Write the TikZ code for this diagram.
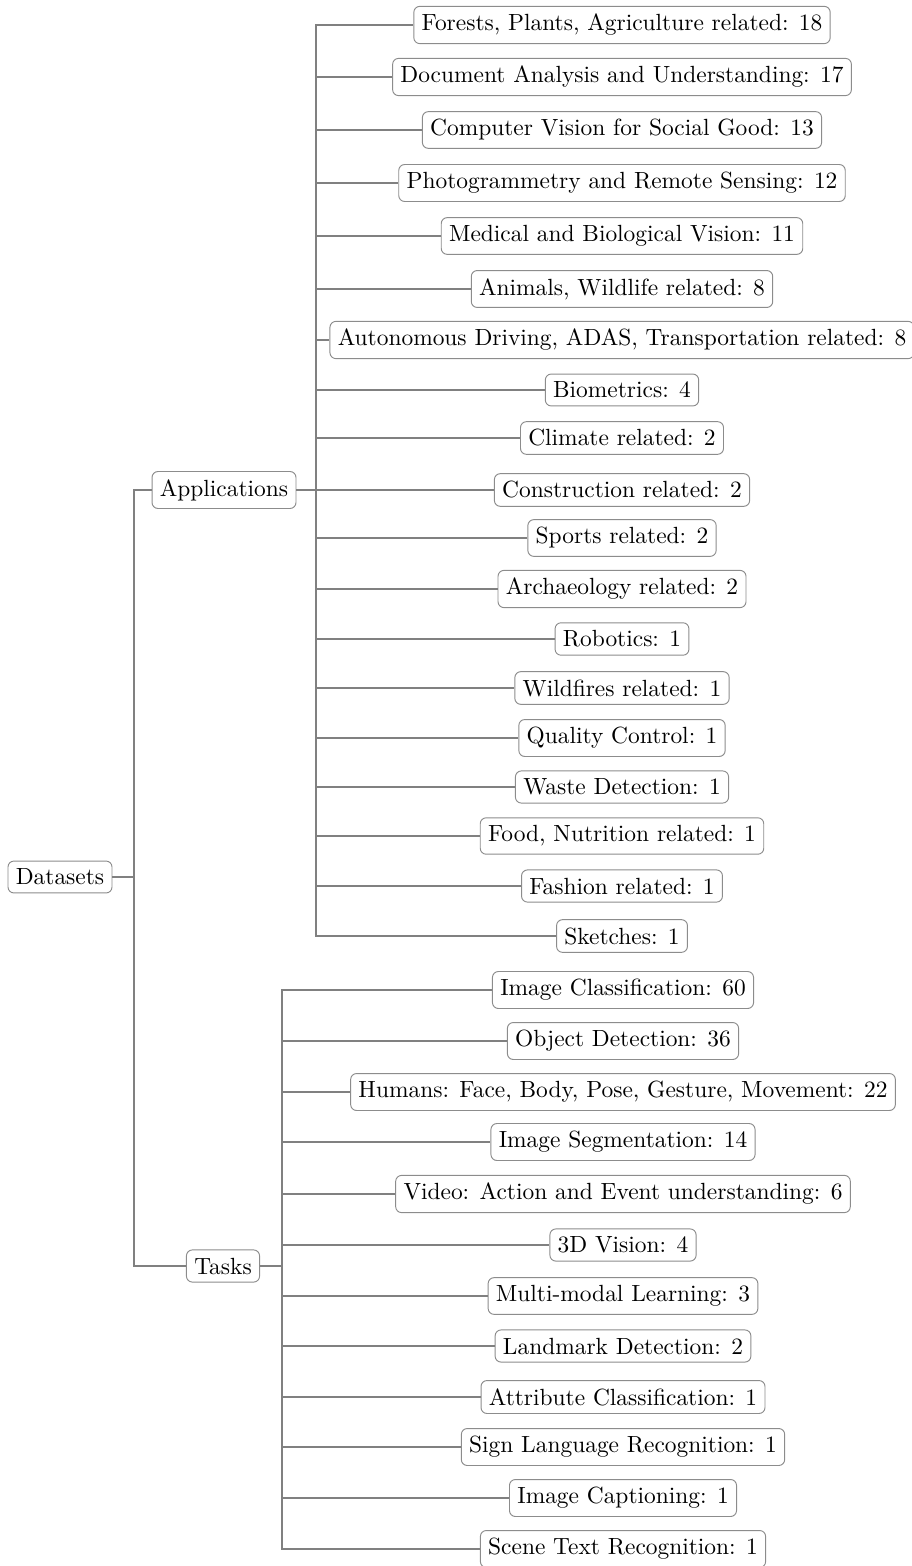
\documentclass[tikz,border=0pt]{standalone}
\begin{document}
\begin{tikzpicture}[x=0.42194pt,y=-0.42194pt,
  box/.style={draw=black!45,line width=0.4pt,rounded corners=2.5pt,inner sep=3.3pt,fill=white,font=\fontsize{9.88pt}{12pt}\selectfont},
  edge/.style={draw=black!50,line width=0.7pt}]
\useasboundingbox (0,0) rectangle (911,1566);
% root and inner nodes
\node[box] (ds) at (60,877) {Datasets};
\node[box] (app) at (224,490) {Applications};
\node[box] (tsk) at (223,1266) {Tasks};
\coordinate (fd) at (134,877);
\coordinate (fa) at (316,490);
\coordinate (ft) at (282,1266);
% application leaves
\foreach \n/\y/\t in {
 a1/25/{Forests, Plants, Agriculture related: 18},
 a2/77/{Document Analysis and Understanding: 17},
 a3/130/{Computer Vision for Social Good: 13},
 a4/183/{Photogrammetry and Remote Sensing: 12},
 a5/236/{Medical and Biological Vision: 11},
 a6/289/{Animals, Wildlife related: 8},
 a7/340/{Autonomous Driving, ADAS, Transportation related: 8},
 a8/390/{Biometrics: 4},
 a9/438/{Climate related: 2},
 a10/490/{Construction related: 2},
 a11/538/{Sports related: 2},
 a12/589/{Archaeology related: 2},
 a13/639/{Robotics: 1},
 a14/688/{Wildfires related: 1},
 a15/738/{Quality Control: 1},
 a16/787/{Waste Detection: 1},
 a17/836/{Food, Nutrition related: 1},
 a18/886/{Fashion related: 1},
 a19/936/{Sketches: 1}}{
  \node[box] (\n) at (622,\y) {\t};
  \draw[edge] (app.east) -- (fa) |- (\n.west);
}
% task leaves
\foreach \n/\y/\t in {
 t1/990/{Image Classification: 60},
 t2/1041/{Object Detection: 36},
 t3/1092/{Humans: Face, Body, Pose, Gesture, Movement: 22},
 t4/1142/{Image Segmentation: 14},
 t5/1194/{Video: Action and Event understanding: 6},
 t6/1245/{3D Vision: 4},
 t7/1296/{Multi-modal Learning: 3},
 t8/1346/{Landmark Detection: 2},
 t9/1397/{Attribute Classification: 1},
 t10/1447/{Sign Language Recognition: 1},
 t11/1498/{Image Captioning: 1},
 t12/1549/{Scene Text Recognition: 1}}{
  \node[box] (\n) at (623,\y) {\t};
  \draw[edge] (tsk.east) -- (ft) |- (\n.west);
}
\draw[edge] (ds.east) -- (fd) |- (app.west);
\draw[edge] (ds.east) -- (fd) |- (tsk.west);
\end{tikzpicture}
\end{document}
